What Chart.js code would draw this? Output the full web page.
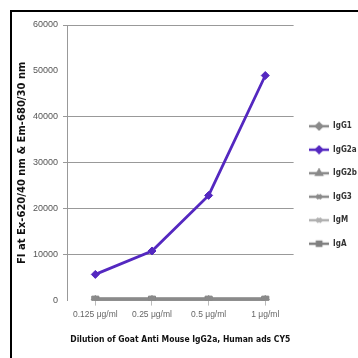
<!DOCTYPE html>
<html>
<head>
<meta charset="utf-8">
<script src="https://cdn.jsdelivr.net/npm/chart.js@4"></script>
<style>
  html, body { margin: 0; padding: 0; background: #fff; }
  #wrap { width: 358px; height: 358px; position: relative; }
</style>
</head>
<body>
<div id="wrap"><canvas id="igChart" width="358" height="358"></canvas></div>
<script>
// categories and series
const categories = ['0.125 μg/ml', '0.25 μg/ml', '0.5 μg/ml', '1 μg/ml'];
const igG1  = [200, 200, 200, 200];
const igG2a = [5700, 10800, 22900, 49000];
const igG2b = [200, 200, 200, 200];
const igG3  = [200, 200, 200, 200];
const igM   = [200, 200, 200, 200];
const igA   = [200, 200, 200, 200];
const yTicks = [0, 10000, 20000, 30000, 40000, 50000, 60000];

const narrow = '"Liberation Sans Narrow", "DejaVu Sans Condensed", "Liberation Sans", sans-serif';
const plain = '"Liberation Sans", Arial, sans-serif';

// little line + marker picture for the legend
function legendIcon(color, style, lineWidth, radius) {
    const c = document.createElement('canvas');
    c.width = 20; c.height = 10;
    const g = c.getContext('2d');
    g.strokeStyle = color;
    g.fillStyle = color;
    g.lineWidth = lineWidth;
    g.beginPath(); g.moveTo(0, 5); g.lineTo(20, 5); g.stroke();
    Chart.helpers.drawPoint(g, { pointStyle: style, radius: radius, borderWidth: 1 }, 10, 5);
    g.fill();
    return c;
}

const framePlugin = {
    id: 'frame',
    beforeDraw(chart) {
        const ctx = chart.ctx;
        ctx.save();
        ctx.fillStyle = '#fff';
        ctx.fillRect(0, 0, chart.width, chart.height);
        ctx.strokeStyle = '#000';
        ctx.lineWidth = 2;
        ctx.beginPath();
        ctx.moveTo(11, chart.height);
        ctx.lineTo(11, 11);
        ctx.lineTo(chart.width, 11);
        ctx.stroke();
        ctx.restore();
    }
};

function series(label, data, color, style, lw, r) {
    return {
        label: label,
        data: data,
        borderColor: color,
        backgroundColor: color,
        borderWidth: lw,
        pointStyle: style,
        pointRadius: r,
        pointBorderWidth: 1,
        tension: 0,
        fill: false,
        icon: legendIcon(color, style, Math.min(lw, 2.5), 3)
    };
}

const ctx = document.getElementById('igChart');
new Chart(ctx, {
    type: 'line',
    data: {
        labels: categories,
        datasets: [
            series('IgG1', igG1, '#8a8a8a', 'rectRot', 3, 4),
            series('IgG2a', igG2a, '#5428c0', 'rectRot', 2.8, 4),
            series('IgG2b', igG2b, '#8a8a8a', 'triangle', 3, 4),
            series('IgG3', igG3, '#8a8a8a', 'crossRot', 3, 4),
            series('IgM', igM, '#b0b0b0', 'crossRot', 3, 4),
            series('IgA', igA, '#808080', 'rect', 5, 5)
        ]
    },
    options: {
        responsive: false,
        animation: false,
        layout: { padding: { left: 12, top: 25, right: -9, bottom: 13 } },
        plugins: {
            legend: {
                position: 'right',
                align: 'center',
                labels: {
                    usePointStyle: true,
                    pointStyleWidth: 20,
                    boxHeight: 8,
                    padding: 15.5,
                    color: '#333',
                    font: { family: narrow, size: 8, weight: 'bold' },
                    generateLabels(chart) {
                        return chart.data.datasets.map((ds, i) => ({
                            text: ds.label,
                            datasetIndex: i,
                            pointStyle: ds.icon,
                            fillStyle: ds.borderColor,
                            strokeStyle: ds.borderColor,
                            lineWidth: 0,
                            fontColor: '#333'
                        }));
                    }
                }
            },
            tooltip: { enabled: false }
        },
        scales: {
            x: {
                offset: true,
                border: { display: false },
                grid: {
                    drawOnChartArea: false,
                    drawTicks: true,
                    tickLength: 5,
                    color: '#bbb'
                },
                ticks: {
                    color: '#666',
                    padding: 4,
                    maxRotation: 0,
                    font: { family: plain, size: 8.5 }
                },
                title: {
                    display: true,
                    text: 'Dilution of Goat Anti Mouse IgG2a, Human ads CY5',
                    color: '#111',
                    padding: { top: 11, bottom: 0 },
                    font: { family: narrow, size: 8.5, weight: 'bold' }
                }
            },
            y: {
                min: 0,
                max: 60000,
                afterBuildTicks(scale) {
                    scale.ticks = yTicks.map(v => ({ value: v }));
                },
                afterFit(scale) { scale.width = 55; },
                border: { display: true, color: '#999', width: 1 },
                grid: {
                    color: c => (c.tick && (c.tick.value === 0 || c.tick.value === 50000)) ? 'rgba(0,0,0,0)' : '#999',
                    tickLength: 4
                },
                ticks: {
                    color: '#555',
                    padding: 5,
                    font: { family: plain, size: 9 },
                    callback: v => String(v)
                },
                title: {
                    display: true,
                    text: 'FI at Ex-620/40 nm & Em-680/30 nm',
                    color: '#111',
                    padding: { top: 4, bottom: 0 },
                    font: { family: '"DejaVu Sans", sans-serif', size: 10, weight: 'bold' }
                }
            }
        }
    },
    plugins: [framePlugin]
});
</script>
</body>
</html>
